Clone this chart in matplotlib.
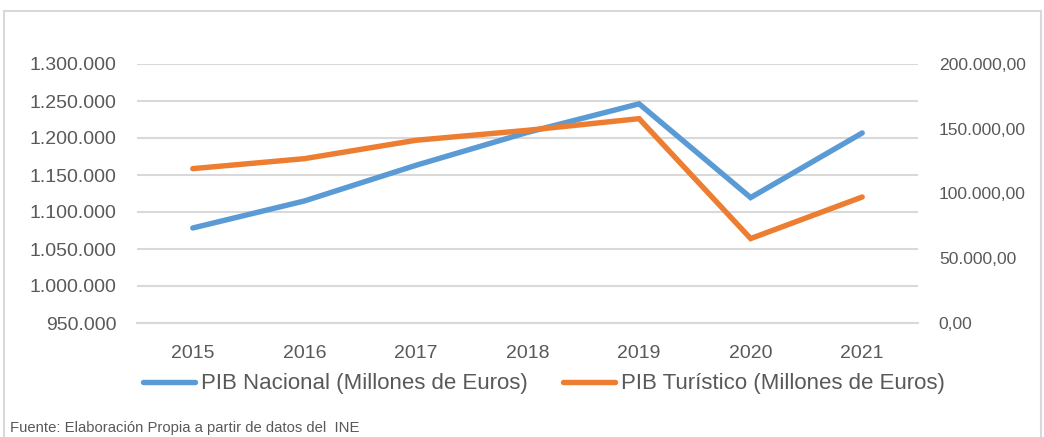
import matplotlib
matplotlib.use("Agg")
import matplotlib.pyplot as plt
from matplotlib.patches import Rectangle
from matplotlib.ticker import FuncFormatter

years = ["2015", "2016", "2017", "2018", "2019", "2020", "2021"]
pib_nacional = [1078400, 1114900, 1163100, 1207600, 1246200, 1119500, 1206800]
pib_turistico = [119200, 126900, 141100, 148800, 157800, 65200, 97300]
left_ticks = [950000, 1000000, 1050000, 1100000, 1150000, 1200000, 1250000, 1300000]
right_ticks = [0, 50000, 100000, 150000, 200000]
label_nac = "PIB Nacional (Millones de Euros)"
label_tur = "PIB Turístico (Millones de Euros)"
source = "Fuente: Elaboración Propia a partir de datos del  INE"

FONT = ["Liberation Sans Narrow", "Liberation Sans", "DejaVu Sans"]
plt.rcParams["font.family"] = FONT
TXT = "#595959"
BLUE = "#5B9BD5"
ORANGE = "#ED7D31"
GRID = "#D9D9D9"

fig = plt.figure(figsize=(10.44, 4.37), dpi=100)
W, H = 1044, 437
ax = fig.add_axes([137 / W, 1 - 323 / H, (918 - 137) / W, (323 - 64) / H])
ax2 = ax.twinx()

x = list(range(len(years)))
l1, = ax.plot(x, pib_nacional, color=BLUE, lw=3.9, solid_capstyle="round",
              solid_joinstyle="miter", label=label_nac, zorder=3)
l2, = ax2.plot(x, pib_turistico, color=ORANGE, lw=3.9, solid_capstyle="round",
               solid_joinstyle="miter", label=label_tur, zorder=3)

ax.set_xlim(-0.5, len(years) - 0.5)
ax.set_ylim(950000, 1300000)
ax2.set_ylim(0, 200000)
ax.set_yticks(left_ticks)
ax2.set_yticks(right_ticks)
ax.set_xticks(x)
ax.set_xticklabels(years)

def es_int(v, p):
    return f"{int(round(v)):,}".replace(",", ".")

def es_dec(v, p):
    s = f"{v:,.2f}"
    return s.replace(",", "X").replace(".", ",").replace("X", ".")

ax.yaxis.set_major_formatter(FuncFormatter(es_int))
ax2.yaxis.set_major_formatter(FuncFormatter(es_dec))

ax.grid(axis="y", color=GRID, lw=1.5, zorder=0)
ax.set_axisbelow(True)
for a in (ax, ax2):
    for s in a.spines.values():
        s.set_visible(False)
    a.tick_params(length=0, colors=TXT)
ax.tick_params(axis="y", pad=15, labelsize=14)
ax2.tick_params(axis="y", pad=15, labelsize=12.6)
ax.tick_params(axis="x", pad=16, labelsize=14)
ax.spines["bottom"].set_visible(True)
ax.spines["bottom"].set_color(GRID)
ax.spines["bottom"].set_linewidth(1.5)

fig.legend([l1, l2], [label_nac, label_tur], loc="center",
           bbox_to_anchor=(544 / W, 1 - 384 / H), ncol=2, frameon=False,
           fontsize=16, labelcolor=TXT, handlelength=2.35, handletextpad=0.25,
           columnspacing=1.6)

fig.text(10 / W, 1 - 428 / H, source, fontsize=10.7, color=TXT, va="center", ha="left")

fig.patches.append(Rectangle((4 / W, -0.05), 1037 / W, (437 - 11) / H + 0.05,
                             transform=fig.transFigure, fill=False,
                             edgecolor="#D9D9D9", lw=1.5, zorder=0))

fig.savefig("out.png", dpi=100)
